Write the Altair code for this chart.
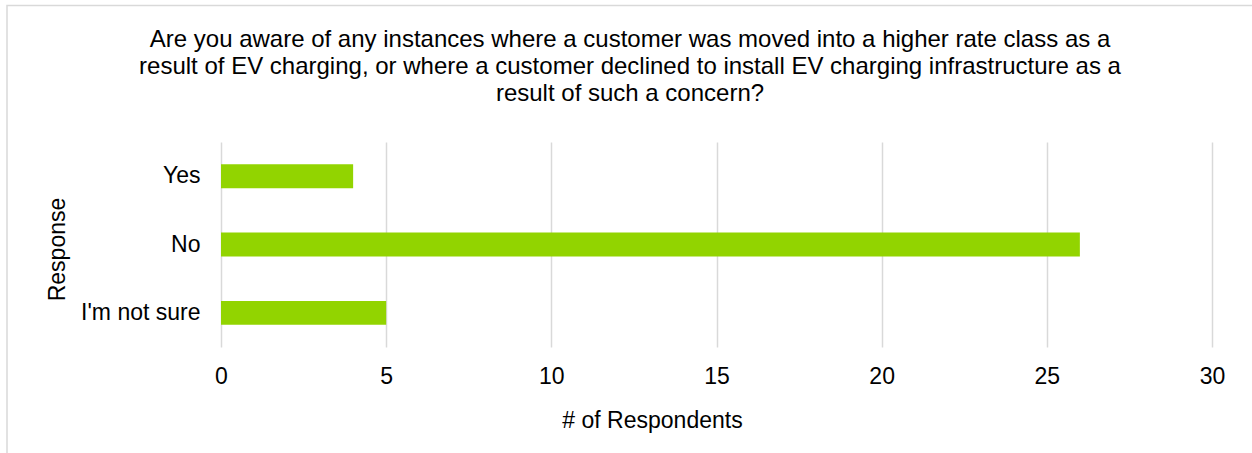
import altair as alt
import pandas as pd

categories = ["Yes", "No", "I'm not sure"]
values = [4, 26, 5]
x_ticks = [0, 5, 10, 15, 20, 25, 30]
title_lines = [
    "Are you aware of any instances where a customer was moved into a higher rate class as a",
    "result of EV charging, or where a customer declined to install EV charging infrastructure as a",
    "result of such a concern?",
]

df = pd.DataFrame({"Response": categories, "Respondents": values})

FONT = "Liberation Sans"
W, H = 991, 205
PL, PT = 221, 142

border = alt.Chart(pd.DataFrame({"a": [0]})).mark_rect(
    fill="transparent", stroke="#d9d9d9", strokeWidth=1.5
).encode(
    x=alt.value(7 - PL), x2=alt.value(1262 - PL),
    y=alt.value(5.5 - PT), y2=alt.value(470 - PT),
)

bars = alt.Chart(df).mark_bar(color="#92D400").encode(
    x=alt.X(
        "Respondents:Q",
        scale=alt.Scale(domain=[0, 30], nice=False),
        axis=alt.Axis(
            values=x_ticks, title="# of Respondents", grid=True, ticks=False,
            domain=False, labelPadding=18, labelFlush=False, titleX=431, titleY=80,
            titleBaseline="alphabetic", titleAlign="center",
        ),
    ),
    y=alt.Y(
        "Response:N",
        sort=categories,
        scale=alt.Scale(paddingInner=0.65, paddingOuter=0.325),
        axis=alt.Axis(
            title="Response", ticks=False, domain=False, labelPadding=21,
            titleX=-157, titleY=107, titleAngle=270,
            titleBaseline="alphabetic", titleAlign="center",
        ),
    ),
)

chart = alt.layer(border, bars).properties(
    width=W, height=H,
    background="white",
    title=alt.Title(
        title_lines, fontSize=24, font=FONT, fontWeight="normal", color="#000000",
        anchor="middle", lineHeight=27, dx=-86.5, dy=129, offset=28,
    ),
    autosize=alt.AutoSizeParams(type="none"),
    padding={"left": PL, "top": PT, "right": 1252 - PL - W, "bottom": 453 - PT - H},
).configure_view(stroke=None).configure_axis(
    labelFont=FONT, titleFont=FONT, labelFontSize=23, titleFontSize=23,
    labelColor="#000000", titleColor="#000000", titleFontWeight="normal",
    gridColor="#d9d9d9", gridWidth=1.5,
)

chart.save("out.html", embed_options={"renderer": "svg", "actions": False})
